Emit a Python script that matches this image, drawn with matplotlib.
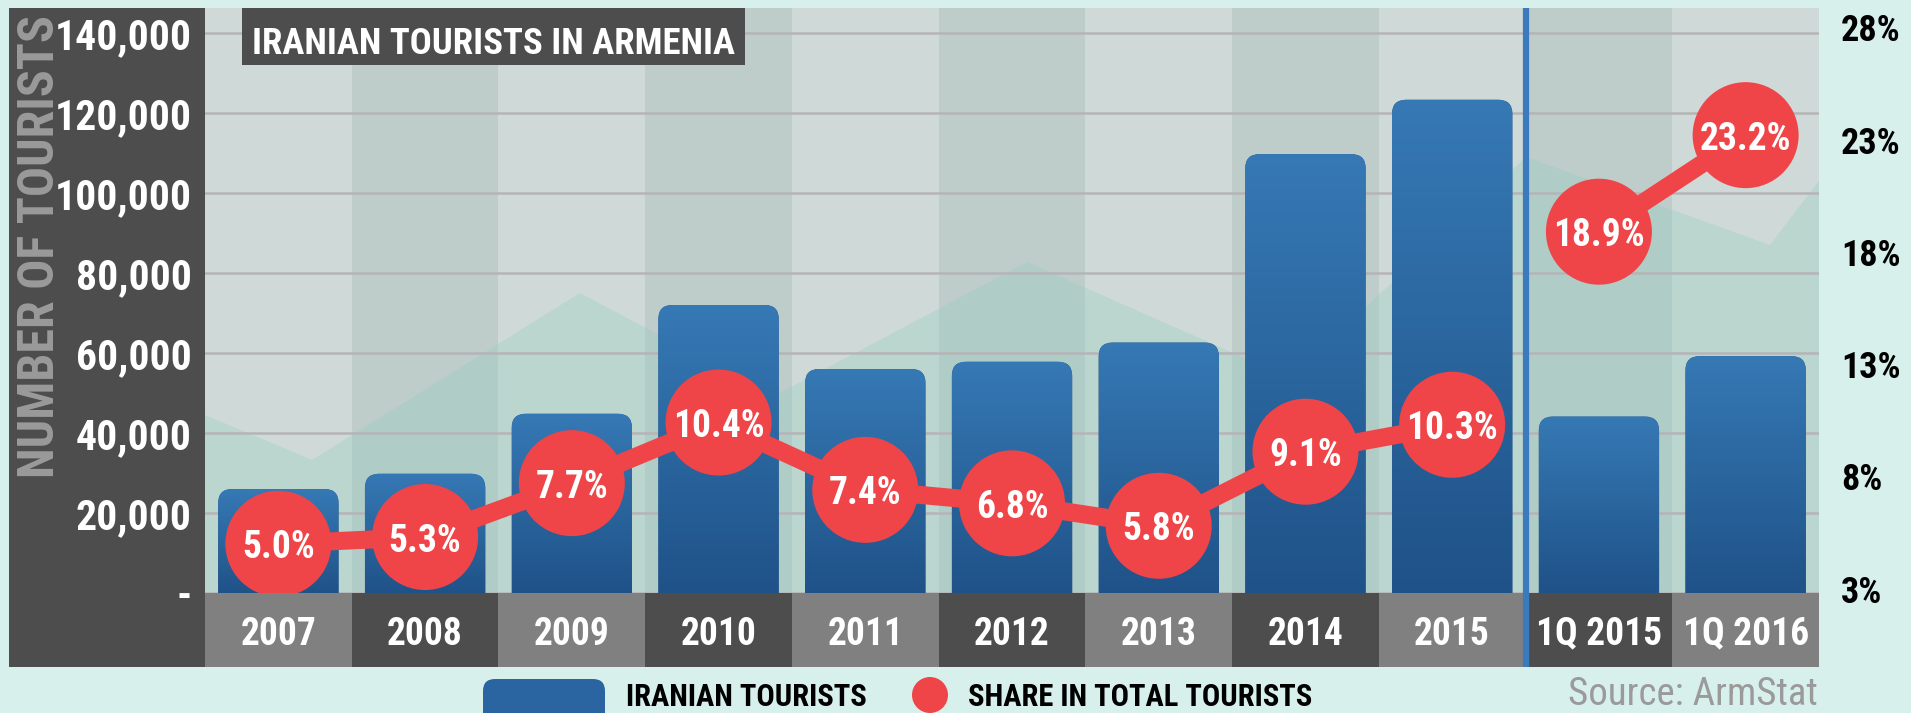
import numpy as np
import matplotlib
matplotlib.use('Agg')
import matplotlib.pyplot as plt
from matplotlib import font_manager
from matplotlib.patches import FancyBboxPatch, Rectangle, Ellipse, Polygon
from matplotlib.colors import LinearSegmentedColormap

# ---- data ----
categories = ['2007', '2008', '2009', '2010', '2011', '2012', '2013', '2014', '2015',
              '1Q 2015', '1Q 2016']
tourists = [26000, 29800, 44800, 72000, 56000, 57800, 62600, 109700, 123300, 44100, 59200]
share = [5.0, 5.3, 7.7, 10.4, 7.4, 6.8, 5.8, 9.1, 10.3, 18.9, 23.2]
share_labels = ['5.0%', '5.3%', '7.7%', '10.4%', '7.4%', '6.8%', '5.8%', '9.1%', '10.3%',
                '18.9%', '23.2%']
# annual figures and the two quarters are separate lines
annual_idx = [0, 1, 2, 3, 4, 5, 6, 7, 8]
quarter_idx = [9, 10]
left_ticks = [0, 20000, 40000, 60000, 80000, 100000, 120000, 140000]
left_tick_labels = ['-', '20,000', '40,000', '60,000', '80,000', '100,000', '120,000', '140,000']
right_ticks = [3, 8, 13, 18, 23, 28]
right_tick_labels = ['3%', '8%', '13%', '18%', '23%', '28%']

# ---- fonts ----
available = {f.name for f in font_manager.fontManager.ttflist}
narrow = next((n for n in ['Liberation Sans Narrow', 'Roboto Condensed', 'DejaVu Sans Condensed']
               if n in available), 'Liberation Sans')
plt.rcParams['font.family'] = [narrow, 'DejaVu Sans']
plt.rcParams['font.weight'] = 'bold'

W, H = 1911, 713


def fx(px):
    return px / W


def fy(py):
    return 1 - py / H


BLUE_TOP, BLUE_BOT = '#3679b5', '#1f5288'
RED = '#f04548'
DARK = '#4d4d4d'
MID = '#808080'

fig = plt.figure(figsize=(W / 100, H / 100), dpi=100, facecolor='#d8f0eb')

# dark panel behind the left axis labels
fig.patches.append(Rectangle((fx(9), fy(667)), (205 - 9) / W, (667 - 8) / H,
                             transform=fig.transFigure, color=DARK, lw=0, zorder=-1))

ax = fig.add_axes([fx(205), fy(593), 1614 / W, 585 / H])
n = len(categories)
x = np.arange(n)
ymax = 146250
ax.set_xlim(-0.5, n - 0.5)
ax.set_ylim(0, ymax)

# alternating column backgrounds
for i in x:
    ax.axvspan(i - 0.5, i + 0.5, color='#cfdad8' if i % 2 == 0 else '#bfcdca', lw=0, zorder=0.2)

# faint decorative mountain in the background
decor = [(205, 415), (312, 460), (580, 293), (774, 396), (1027, 262), (1290, 378),
         (1526, 157), (1770, 245), (1911, 60), (1911, 600), (205, 600)]
ax.add_patch(Polygon([((px - 205) / 1614, (593 - py) / 585) for px, py in decor],
                     transform=ax.transAxes, color='#8fcabd', alpha=0.3, lw=0, zorder=0.4))

ax.set_yticks(left_ticks, left_tick_labels)
ax.set_xticks([])
ax.tick_params(axis='y', length=0, pad=9.5, labelsize=30, labelcolor='white')
ax.grid(axis='y', color='#b5b5b5', lw=1.8)
ax.set_axisbelow(True)
for s in ax.spines.values():
    s.set_visible(False)

# rounded-top bars with a vertical gradient
bar_w = 0.82
px_per_x = 1614 / n
units_per_py = ymax / 585
r_px = 14
rx = r_px / px_per_x
aspect = units_per_py * px_per_x
cmap = LinearSegmentedColormap.from_list('bar', [BLUE_BOT, BLUE_TOP])
grad = np.linspace(0, 1, 256).reshape(-1, 1)
for i, v in zip(x, tourists):
    y0 = -2 * r_px * units_per_py
    patch = FancyBboxPatch((i - bar_w / 2, y0), bar_w, v - y0,
                           boxstyle=f'round,pad=0,rounding_size={rx}',
                           mutation_aspect=aspect, color=BLUE_BOT, lw=0, zorder=2)
    ax.add_patch(patch)
    img = ax.imshow(grad, extent=(i - bar_w / 2, i + bar_w / 2, 0, v), origin='lower',
                    aspect='auto', cmap=cmap, zorder=2.1)
    img.set_clip_path(patch)
ax.set_xlim(-0.5, n - 0.5)
ax.set_ylim(0, ymax)

ax.axvline(8.5, color='#3a7abd', lw=4.5, zorder=2.5)

# share line on a second axis
ax2 = ax.twinx()
ax2.set_ylim(2.806, 28.864)
ax2.set_yticks(right_ticks, right_tick_labels)
ax2.tick_params(axis='y', length=0, pad=16, labelsize=26, labelcolor='black')
for s in ax2.spines.values():
    s.set_visible(False)
for idx in (annual_idx, quarter_idx):
    ax2.plot([x[k] for k in idx], [share[k] for k in idx], color=RED, lw=13,
             solid_capstyle='butt', zorder=3)
ax2.scatter(x, share, s=5825, color=RED, edgecolors='none', zorder=4)
for i, v, lbl in zip(x, share, share_labels):
    ax2.annotate(lbl, (i, v), xytext=(0, -10.5), textcoords='offset points',
                 ha='center', va='baseline', color='white', fontsize=27, zorder=5)

# category band under the plot
axb = fig.add_axes([fx(205), fy(667), 1614 / W, 74 / H])
axb.set_xlim(-0.5, n - 0.5)
axb.set_ylim(0, 1)
axb.bar(x, 1, width=1, color=[MID if i % 2 == 0 else DARK for i in x], lw=0)
for i, c in zip(x, categories):
    axb.text(i, 0.30, c, ha='center', va='baseline', color='white', fontsize=27)
axb.axvline(8.5, color='#3a7abd', lw=4.5)
axb.axis('off')

# axis title
fig.text(fx(41), fy(247), 'NUMBER OF TOURISTS', rotation=90, ha='center', va='center',
         color='#9a9a9a', fontsize=36)

# chart title
fig.patches.append(Rectangle((fx(242), fy(65)), (745 - 242) / W, 57 / H,
                             transform=fig.transFigure, color=DARK, lw=0, zorder=4))
fig.text(fx(493.5), fy(54), 'IRANIAN TOURISTS IN ARMENIA', ha='center', va='baseline',
         color='white', fontsize=26.5, zorder=5)

# legend
fig.patches.append(FancyBboxPatch((fx(483), fy(730)), 122 / W, 51 / H,
                                  boxstyle=f'round,pad=0,rounding_size={12 / W}',
                                  mutation_aspect=W / H, transform=fig.transFigure,
                                  color='#2a65a1', lw=0))
fig.text(fx(626), fy(706), 'IRANIAN TOURISTS', ha='left', va='baseline', color='black',
         fontsize=22)
fig.patches.append(Ellipse((fx(930), fy(695)), 36 / W, 36 / H, transform=fig.transFigure,
                           color=RED, lw=0))
fig.text(fx(968), fy(706), 'SHARE IN TOTAL TOURISTS', ha='left', va='baseline',
         color='black', fontsize=22)

fig.text(fx(1818), fy(705), 'Source: ArmStat', ha='right', va='baseline', color='#9a9a9a',
         fontsize=28, fontweight='normal')

fig.savefig('out.png', dpi=100, facecolor=fig.get_facecolor())
